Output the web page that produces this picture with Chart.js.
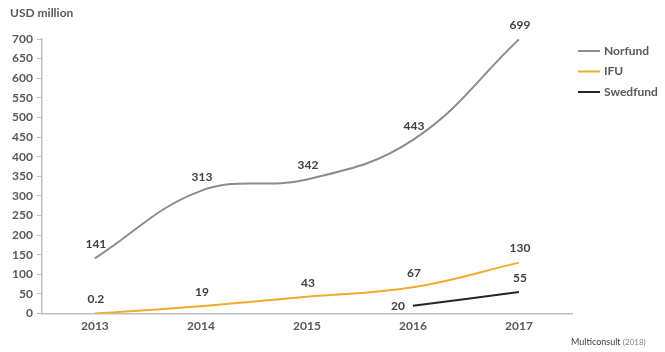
<!DOCTYPE html>
<html>
<head>
<meta charset="utf-8">
<script src="https://cdn.jsdelivr.net/npm/chart.js@4/dist/chart.umd.min.js"></script>
<style>
  html, body { margin: 0; padding: 0; background: #fff; }
  #wrap { width: 665px; height: 352px; position: relative; }
</style>
</head>
<body>
<div id="wrap"><canvas id="chart" width="665" height="352"></canvas></div>
<script>
const years = ['2013', '2014', '2015', '2016', '2017'];
const norfund = [141, 313, 342, 443, 699];
const ifu = [0.2, 19, 43, 67, 130];
const swedfund = [null, null, null, 20, 55];
const yTicks = [0, 50, 100, 150, 200, 250, 300, 350, 400, 450, 500, 550, 600, 650, 700];

const FONT = 'Lato, "Open Sans", sans-serif';
const TEXT = '#595959';

// value labels above each point, drawn from the data
const valueLabels = {
  id: 'valueLabels',
  afterDatasetsDraw(chart) {
    const ctx = chart.ctx;
    ctx.save();
    ctx.font = 'bold 12px ' + FONT;
    ctx.fillStyle = '#404040';
    chart.data.datasets.forEach((ds, i) => {
      const meta = chart.getDatasetMeta(i);
      meta.data.forEach((pt, j) => {
        const v = ds.data[j];
        if (v === null || v === undefined) return;
        if (ds.labelSide === 'left' && j === ds.data.findIndex(d => d !== null)) {
          ctx.textAlign = 'right';
          ctx.textBaseline = 'middle';
          ctx.fillText(String(v), pt.x - 8, pt.y);
        } else {
          ctx.textAlign = 'center';
          ctx.textBaseline = 'bottom';
          ctx.fillText(String(v), pt.x + 1, pt.y - 8);
        }
      });
    });
    ctx.restore();
  }
};

// title, legend and source note
const extras = {
  id: 'extras',
  afterDraw(chart) {
    const ctx = chart.ctx;
    ctx.save();
    ctx.fillStyle = TEXT;
    ctx.font = 'bold 12px ' + FONT;
    ctx.textAlign = 'left';
    ctx.textBaseline = 'middle';
    ctx.fillText('USD million', 10, 13);

    chart.data.datasets.forEach((ds, i) => {
      const y = 51 + i * 20.5;
      ctx.strokeStyle = ds.borderColor;
      ctx.lineWidth = 2;
      ctx.beginPath();
      ctx.moveTo(578, y);
      ctx.lineTo(600, y);
      ctx.stroke();
      ctx.fillStyle = TEXT;
      ctx.font = 'bold 12px ' + FONT;
      ctx.fillText(ds.label, 604, y);
    });

    ctx.fillStyle = '#404040';
    ctx.font = '9px ' + FONT;
    ctx.textBaseline = 'alphabetic';
    ctx.fillText('Multiconsult', 571, 345);
    const w = ctx.measureText('Multiconsult ').width;
    ctx.fillStyle = '#7f7f7f';
    ctx.font = '8px ' + FONT;
    ctx.fillText('(2018)', 571 + w, 345);
    ctx.restore();
  }
};

new Chart(document.getElementById('chart'), {
  type: 'line',
  data: {
    labels: years,
    datasets: [
      { label: 'Norfund', data: norfund, borderColor: '#8c8c8c', borderWidth: 2, tension: 0.4 },
      { label: 'IFU', data: ifu, borderColor: '#f0ac2e', borderWidth: 2, tension: 0.4 },
      { label: 'Swedfund', data: swedfund, borderColor: '#262626', borderWidth: 2, tension: 0.4, labelSide: 'left' }
    ]
  },
  options: {
    responsive: false,
    animation: false,
    elements: { point: { radius: 0 } },
    layout: { padding: { left: 8, right: 93, top: 39, bottom: 14 } },
    plugins: { legend: { display: false }, tooltip: { enabled: false } },
    scales: {
      x: {
        offset: true,
        grid: { display: true, drawOnChartArea: false, drawTicks: false },
        border: { color: '#bfbfbf', width: 1.5 },
        ticks: { color: TEXT, font: { family: FONT, size: 12, weight: 'bold' }, padding: 5 }
      },
      y: {
        min: 0,
        max: 700,
        afterBuildTicks(axis) { axis.ticks = yTicks.map(v => ({ value: v })); },
        grid: { display: true, drawOnChartArea: false, drawTicks: true, tickLength: 5, color: '#bfbfbf' },
        border: { color: '#bfbfbf', width: 1.5 },
        ticks: { color: TEXT, font: { family: FONT, size: 12, weight: 'bold' }, padding: 4 }
      }
    }
  },
  plugins: [valueLabels, extras]
});
</script>
</body>
</html>
